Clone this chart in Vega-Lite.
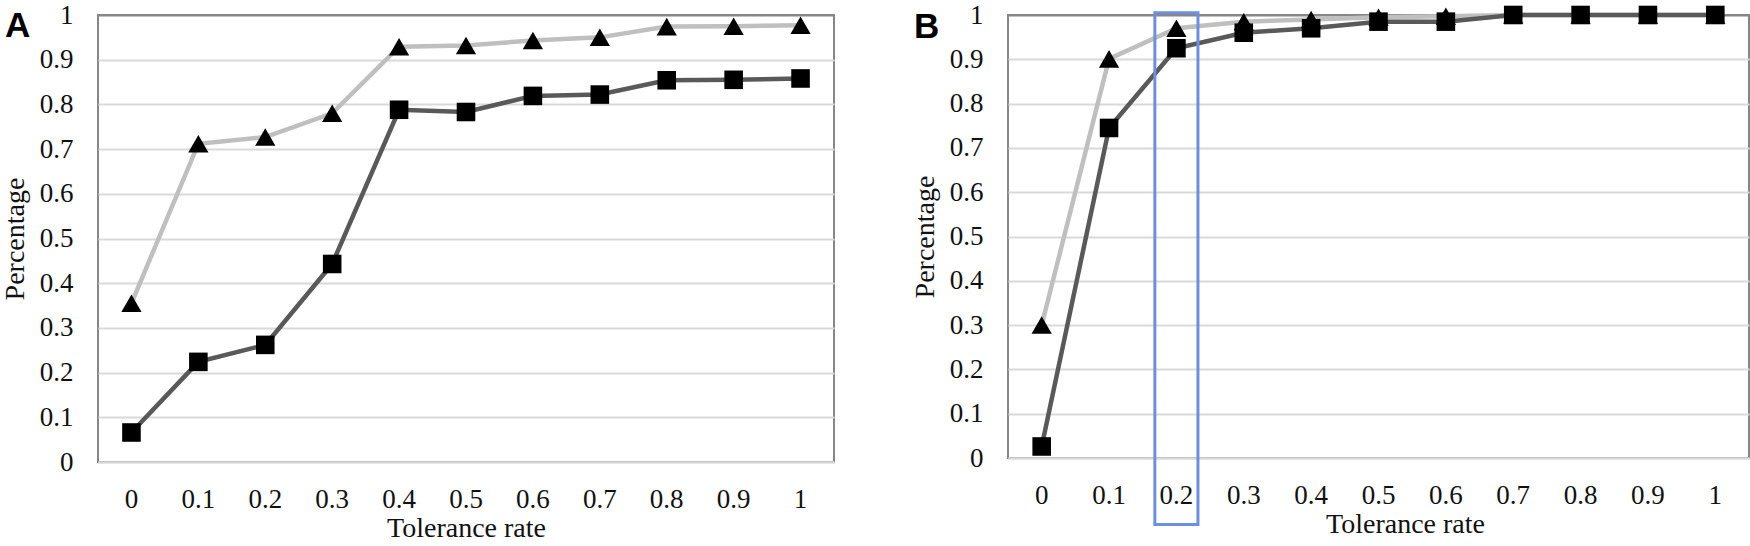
{
  "$schema": "https://vega.github.io/schema/vega-lite/v6.json",
  "background": "white",
  "padding": {"left": 0, "top": 0, "right": 4, "bottom": 2},
  "spacing": 174,
  "bounds": "flush",
  "config": {
    "font": "Liberation Serif",
    "view": {"stroke": "#868686", "strokeWidth": 2},
    "axis": {
      "labelFont": "Liberation Serif", "titleFont": "Liberation Serif",
      "labelFontSize": 27, "titleFontSize": 28, "titleFontWeight": "normal",
      "labelColor": "#111111", "titleColor": "#111111",
      "ticks": false, "gridColor": "#d9d9d9", "gridWidth": 2
    }
  },
  "datasets": {
    "panelA": [
      {"rate": "0", "series": "Series 1", "value": 0.355},
      {"rate": "0.1", "series": "Series 1", "value": 0.712},
      {"rate": "0.2", "series": "Series 1", "value": 0.727},
      {"rate": "0.3", "series": "Series 1", "value": 0.78},
      {"rate": "0.4", "series": "Series 1", "value": 0.929},
      {"rate": "0.5", "series": "Series 1", "value": 0.932},
      {"rate": "0.6", "series": "Series 1", "value": 0.943},
      {"rate": "0.7", "series": "Series 1", "value": 0.95},
      {"rate": "0.8", "series": "Series 1", "value": 0.974},
      {"rate": "0.9", "series": "Series 1", "value": 0.975},
      {"rate": "1", "series": "Series 1", "value": 0.977},
      {"rate": "0", "series": "Series 2", "value": 0.066},
      {"rate": "0.1", "series": "Series 2", "value": 0.224},
      {"rate": "0.2", "series": "Series 2", "value": 0.262},
      {"rate": "0.3", "series": "Series 2", "value": 0.443},
      {"rate": "0.4", "series": "Series 2", "value": 0.788},
      {"rate": "0.5", "series": "Series 2", "value": 0.783},
      {"rate": "0.6", "series": "Series 2", "value": 0.819},
      {"rate": "0.7", "series": "Series 2", "value": 0.822},
      {"rate": "0.8", "series": "Series 2", "value": 0.854},
      {"rate": "0.9", "series": "Series 2", "value": 0.855},
      {"rate": "1", "series": "Series 2", "value": 0.858}
    ],
    "panelB": [
      {"rate": "0", "series": "Series 1", "value": 0.3},
      {"rate": "0.1", "series": "Series 1", "value": 0.901},
      {"rate": "0.2", "series": "Series 1", "value": 0.97},
      {"rate": "0.3", "series": "Series 1", "value": 0.985},
      {"rate": "0.4", "series": "Series 1", "value": 0.99},
      {"rate": "0.5", "series": "Series 1", "value": 0.995},
      {"rate": "0.6", "series": "Series 1", "value": 0.997},
      {"rate": "0.7", "series": "Series 1", "value": 1},
      {"rate": "0.8", "series": "Series 1", "value": 1},
      {"rate": "0.9", "series": "Series 1", "value": 1},
      {"rate": "1", "series": "Series 1", "value": 1},
      {"rate": "0", "series": "Series 2", "value": 0.026},
      {"rate": "0.1", "series": "Series 2", "value": 0.745},
      {"rate": "0.2", "series": "Series 2", "value": 0.925},
      {"rate": "0.3", "series": "Series 2", "value": 0.96},
      {"rate": "0.4", "series": "Series 2", "value": 0.97},
      {"rate": "0.5", "series": "Series 2", "value": 0.985},
      {"rate": "0.6", "series": "Series 2", "value": 0.985},
      {"rate": "0.7", "series": "Series 2", "value": 1},
      {"rate": "0.8", "series": "Series 2", "value": 1},
      {"rate": "0.9", "series": "Series 2", "value": 1},
      {"rate": "1", "series": "Series 2", "value": 1}
    ],
    "highlightB": [{"rate": "0.2"}],
    "labelA": [{"panel": "A"}],
    "labelB": [{"panel": "B"}]
  },
  "hconcat": [
    {
      "width": 736, "height": 447,
      "data": {"name": "panelA"},
      "layer": [
        {
          "mark": {"type": "line", "strokeWidth": 4.5},
          "encoding": {
            "x": {"field": "rate", "type": "ordinal", "sort": null, "scale": {"type": "band", "domain": ["0", "0.1", "0.2", "0.3", "0.4", "0.5", "0.6", "0.7", "0.8", "0.9", "1"], "paddingInner": 0, "paddingOuter": 0}, "bandPosition": 0.5,
                  "axis": {"title": "Tolerance rate", "labelAngle": 0, "labelPadding": 24, "titlePadding": 2, "domainColor": "#d9d9d9", "domainWidth": 2, "grid": false}},
            "y": {"field": "value", "type": "quantitative", "scale": {"domain": [0, 1], "nice": false, "zero": false},
                  "axis": {"title": "Percentage", "values": [0, 0.1, 0.2, 0.3, 0.4, 0.5, 0.6, 0.7, 0.8, 0.9, 1], "format": "~g", "domain": false, "labelPadding": 25, "titlePadding": 10,
                           "gridColor": {"condition": {"test": "datum.value > 0.99", "value": "#868686"}, "value": "#d9d9d9"}}},
            "color": {"field": "series", "type": "nominal", "scale": {"domain": ["Series 1", "Series 2"], "range": ["#bfbfbf", "#595959"]}, "legend": null}
          }
        },
        {
          "mark": {"type": "point", "filled": true, "opacity": 1, "color": "#000000"},
          "encoding": {
            "x": {"field": "rate", "type": "ordinal", "sort": null, "bandPosition": 0.5},
            "y": {"field": "value", "type": "quantitative"},
            "shape": {"field": "series", "type": "nominal", "scale": {"domain": ["Series 1", "Series 2"], "range": ["triangle-up", "square"]}, "legend": null},
            "size": {"field": "series", "type": "ordinal", "scale": {"domain": ["Series 1", "Series 2"], "range": [410, 345]}, "legend": null}
          }
        },
        {
          "data": {"name": "labelA"},
          "mark": {"type": "text", "font": "Liberation Sans", "fontSize": 35, "fontWeight": "bold", "align": "left", "baseline": "alphabetic", "dx": -93, "dy": 22, "color": "#000000"},
          "encoding": {
            "x": {"datum": "0", "type": "ordinal", "bandPosition": 0},
            "y": {"datum": 1, "type": "quantitative"},
            "text": {"field": "panel"}
          }
        }
      ]
    },
    {
      "width": 741, "height": 443,
      "data": {"name": "panelB"},
      "layer": [
        {
          "mark": {"type": "line", "strokeWidth": 4.5},
          "encoding": {
            "x": {"field": "rate", "type": "ordinal", "sort": null, "scale": {"type": "band", "domain": ["0", "0.1", "0.2", "0.3", "0.4", "0.5", "0.6", "0.7", "0.8", "0.9", "1"], "paddingInner": 0, "paddingOuter": 0}, "bandPosition": 0.5,
                  "axis": {"title": "Tolerance rate", "labelAngle": 0, "labelPadding": 24, "titlePadding": 2, "titleX": 397, "domainColor": "#d9d9d9", "domainWidth": 2, "grid": false}},
            "y": {"field": "value", "type": "quantitative", "scale": {"domain": [0, 1], "nice": false, "zero": false},
                  "axis": {"title": "Percentage", "values": [0, 0.1, 0.2, 0.3, 0.4, 0.5, 0.6, 0.7, 0.8, 0.9, 1], "format": "~g", "domain": false, "labelPadding": 25, "titlePadding": 10,
                           "gridColor": {"condition": {"test": "datum.value > 0.99", "value": "#868686"}, "value": "#d9d9d9"}}},
            "color": {"field": "series", "type": "nominal", "scale": {"domain": ["Series 1", "Series 2"], "range": ["#bfbfbf", "#595959"]}, "legend": null}
          }
        },
        {
          "mark": {"type": "point", "filled": true, "opacity": 1, "color": "#000000"},
          "encoding": {
            "x": {"field": "rate", "type": "ordinal", "sort": null, "bandPosition": 0.5},
            "y": {"field": "value", "type": "quantitative"},
            "shape": {"field": "series", "type": "nominal", "scale": {"domain": ["Series 1", "Series 2"], "range": ["triangle-up", "square"]}, "legend": null},
            "size": {"field": "series", "type": "ordinal", "scale": {"domain": ["Series 1", "Series 2"], "range": [410, 345]}, "legend": null}
          }
        },
        {
          "data": {"name": "highlightB"},
          "mark": {"type": "rect", "filled": false, "stroke": "#6d8fe2", "strokeWidth": 3, "width": {"band": 0.64}},
          "encoding": {
            "x": {"field": "rate", "type": "ordinal", "sort": null},
            "y": {"datum": 1.005, "type": "quantitative"},
            "y2": {"datum": -0.15}
          }
        },
        {
          "data": {"name": "labelB"},
          "mark": {"type": "text", "font": "Liberation Sans", "fontSize": 35, "fontWeight": "bold", "align": "left", "baseline": "alphabetic", "dx": -94, "dy": 23, "color": "#000000"},
          "encoding": {
            "x": {"datum": "0", "type": "ordinal", "bandPosition": 0},
            "y": {"datum": 1, "type": "quantitative"},
            "text": {"field": "panel"}
          }
        }
      ]
    }
  ]
}
